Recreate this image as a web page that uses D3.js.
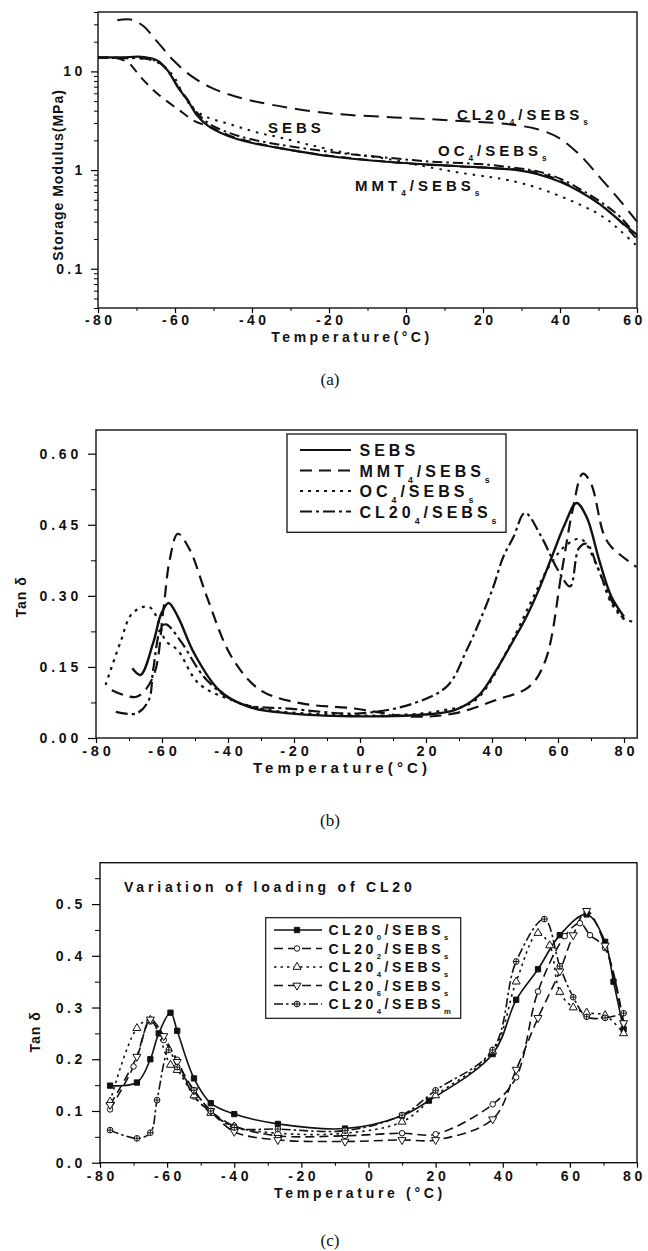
<!DOCTYPE html>
<html>
<head>
<meta charset="utf-8">
<script src="https://cdn.jsdelivr.net/npm/d3@7"></script>
<style>
body { margin: 0; background: #fff; }
svg { display: block; }
</style>
</head>
<body>
<script>
// ---- panel (a): storage modulus (MPa) vs temperature ----
const aTicksX = [-80, -60, -40, -20, 0, 20, 40, 60];
const aTicksY = [0.1, 1, 10];

const aDashLongT = [-75, -71.5, -68.3, -64.8, -60.3, -55.8, -50.6, -44.5, -35, -19.6, -3, 11, 26.7, 34.2, 39.6, 45, 50.4, 55.8, 60];
const aDashLongV = [33, 33.5, 29, 20.4, 12.8, 9.0, 6.85, 5.6, 4.6, 3.75, 3.42, 3.2, 2.91, 2.59, 2.13, 1.44, 0.84, 0.48, 0.30];

const aSolidT = [-80, -74, -68, -64.4, -61.8, -59.2, -56.6, -54.5, -51.4, -46.2, -40.2, -33.2, -19.6, -3.5, 12.7, 28.9, 34.2, 40, 45, 50.4, 55.8, 60];
const aSolidV = [13.8, 13.9, 14.0, 12.8, 10.1, 6.85, 5.0, 3.68, 2.8, 2.21, 1.89, 1.68, 1.38, 1.2, 1.1, 1.0, 0.91, 0.76, 0.61, 0.45, 0.30, 0.22];

const aDashDotT = [-80, -74, -68, -64.4, -61.8, -59.2, -56.6, -54.5, -51.4, -46.2, -40.2, -33.2, -18, -6.8, 6.2, 19.2, 29.6, 34.2, 40, 45, 50.4, 55.8, 60];
const aDashDotV = [13.8, 13.6, 13.5, 12.5, 10, 7, 5.1, 3.9, 3.0, 2.4, 2.05, 1.82, 1.5, 1.36, 1.22, 1.15, 1.04, 0.97, 0.82, 0.65, 0.48, 0.33, 0.21];

const aDotT = [-80, -74, -70, -66, -62.5, -60, -57.5, -55, -51.4, -47.1, -42.8, -38.4, -33, -25, -15, -5, 7.1, 14, 21.8, 26.6, 34.2, 45, 51.5, 55.8, 60];
const aDotV = [13.8, 13.8, 13.6, 13.0, 11, 8.5, 5.5, 4.1, 3.4, 3.02, 2.69, 2.39, 2.15, 1.8, 1.48, 1.3, 1.05, 0.94, 0.85, 0.79, 0.66, 0.45, 0.33, 0.24, 0.17];

const aDashT = [-80, -76, -72.2, -68.8, -64.4, -59.2, -54.9, -51, -46, -40, -30, -20, 0, 20, 30, 36, 45, 50, 55, 60];
const aDashV = [13.8, 13.8, 12.3, 8.65, 5.87, 4.13, 3.14, 2.75, 2.25, 1.92, 1.6, 1.4, 1.17, 1.06, 1.0, 0.9, 0.62, 0.46, 0.32, 0.2];

const aLabels = ["CL20_4/SEBS_s", "SEBS", "OC_4/SEBS_s", "MMT_4/SEBS_s"];

// ---- panel (b): tan delta ----
const bTicksX = [-80, -60, -40, -20, 0, 20, 40, 60, 80];
const bTicksY = [0, 0.15, 0.30, 0.45, 0.60];
const bNames = ["SEBS", "MMT_4/SEBS_s", "OC_4/SEBS_s", "CL20_4/SEBS_s"];

const bSebsT = [-69, -66.5, -62.7, -60.2, -58, -55.2, -50.2, -42.7, -33.9, -21.4, -2.6, 16.2, 28.7, 36, 41, 46, 50, 54, 58, 62, 65.6, 68.7, 72.5, 76.2, 80];
const bSebsV = [0.147, 0.133, 0.2, 0.263, 0.285, 0.256, 0.178, 0.101, 0.066, 0.052, 0.046, 0.048, 0.059, 0.09, 0.14, 0.2, 0.25, 0.31, 0.38, 0.45, 0.496, 0.466, 0.375, 0.298, 0.256];

const bMmtT = [-75.2, -67.7, -62.7, -59.6, -57.7, -55.2, -51.5, -46.4, -38.9, -30.2, -17.7, -2.6, 16.2, 28.7, 41.2, 51.2, 56.2, 61.2, 64.4, 67.5, 70, 73.8, 76.2, 83.8];
const bMmtV = [0.101, 0.087, 0.129, 0.27, 0.375, 0.431, 0.396, 0.298, 0.171, 0.101, 0.073, 0.063, 0.045, 0.052, 0.08, 0.108, 0.164, 0.354, 0.48, 0.558, 0.537, 0.431, 0.403, 0.361];

const bOcT = [-77.1, -72.7, -69, -64, -60.8, -59, -55.2, -48.9, -38.9, -27.6, -10, 10, 25, 35, 45, 52, 58, 63, 67, 72, 76.2, 80, 83.2];
const bOcV = [0.112, 0.2, 0.263, 0.277, 0.242, 0.206, 0.185, 0.115, 0.08, 0.059, 0.05, 0.048, 0.058, 0.08, 0.19, 0.29, 0.37, 0.41, 0.42, 0.36, 0.284, 0.252, 0.245];

const bCl20T = [-74, -67.7, -64, -62.7, -60.2, -58.8, -57.7, -53.9, -46.4, -36.4, -21.4, 0, 16.2, 26.5, 32.3, 36.4, 40.4, 43.4, 46.5, 50, 55, 60, 63.7, 66.3, 68.7, 72, 76.2, 80];
const bCl20V = [0.055, 0.052, 0.08, 0.143, 0.235, 0.24, 0.235, 0.2, 0.122, 0.073, 0.062, 0.052, 0.073, 0.11, 0.185, 0.249, 0.319, 0.382, 0.424, 0.475, 0.424, 0.354, 0.32, 0.40, 0.41, 0.36, 0.29, 0.25];

// ---- panel (c): variation of loading of CL20 ----
const cTicksX = [-80, -60, -40, -20, 0, 20, 40, 60, 80];
const cTicksY = [0, 0.1, 0.2, 0.3, 0.4, 0.5];
const cNames = ["CL20_0/SEBS_s", "CL20_2/SEBS_s", "CL20_4/SEBS_s", "CL20_6/SEBS_s", "CL20_4/SEBS_m"];

const c0T = [-77, -69, -65, -62.5, -59, -57, -52, -47, -40, -27, -7, 10, 18, 37, 44, 50.5, 57, 65, 70.5, 73, 76];
const c0V = [0.149, 0.155, 0.200, 0.250, 0.290, 0.255, 0.163, 0.115, 0.094, 0.075, 0.066, 0.091, 0.120, 0.210, 0.315, 0.374, 0.440, 0.480, 0.427, 0.350, 0.258];

const c2T = [-77, -70, -65, -61, -57, -52, -47, -40, -27, -7, 10, 20, 37, 44, 50.5, 58.5, 63, 66, 70.5, 76];
const c2V = [0.103, 0.186, 0.273, 0.237, 0.199, 0.128, 0.099, 0.071, 0.052, 0.052, 0.057, 0.055, 0.113, 0.165, 0.331, 0.438, 0.463, 0.44, 0.415, 0.27];

const c4T = [-77, -69, -65, -59, -57, -52, -47, -40, -27, -7, 10, 20, 37, 44, 50.5, 54, 57, 61, 65, 70.5, 76];
const c4V = [0.118, 0.260, 0.276, 0.189, 0.179, 0.130, 0.096, 0.070, 0.057, 0.057, 0.079, 0.13, 0.215, 0.35, 0.444, 0.42, 0.33, 0.30, 0.29, 0.285, 0.250];

const c6T = [-77, -69, -65, -61, -57, -52, -47, -40, -27, -7, 10, 20, 37, 44, 50.5, 57, 61, 65, 70.5, 76];
const c6V = [0.112, 0.205, 0.277, 0.245, 0.195, 0.14, 0.1, 0.06, 0.044, 0.041, 0.044, 0.044, 0.084, 0.18, 0.28, 0.37, 0.44, 0.487, 0.42, 0.27];

const c4mT = [-77, -69, -65, -63, -59.5, -57, -52, -47, -40, -27, -7, 10, 20, 37, 44, 52.4, 57, 61, 65, 70.5, 76];
const c4mV = [0.063, 0.047, 0.058, 0.121, 0.218, 0.185, 0.14, 0.1, 0.068, 0.065, 0.062, 0.092, 0.14, 0.218, 0.389, 0.471, 0.38, 0.32, 0.282, 0.28, 0.289];

const sans = '"Liberation Sans", Arial, sans-serif';
const svg = d3.select("body").append("svg").attr("width", 648).attr("height", 1251);

function zip(t, v) { return t.map((d, i) => ({t: d, v: v[i]})); }

function boldText(sel, size, spacing) {
    return sel.attr("font-family", sans).attr("font-weight", "bold")
        .attr("font-size", size).attr("letter-spacing", spacing).attr("fill", "#111");
}

// "CL20_4/SEBS_s" -> text with subscripts
function subText(g, x, y, label, size, spacing) {
    const t = boldText(g.append("text").attr("x", x).attr("y", y), size, spacing);
    const parts = label.split(/_(.)/);
    let shift = 0;
    parts.forEach((p, i) => {
        if (!p) return;
        const sub = i % 2 === 1;
        const target = sub ? Math.round(size * 0.35) : 0;
        t.append("tspan").attr("dy", target - shift)
            .attr("font-size", sub ? size * 0.55 : size).text(p);
        shift = target;
    });
    return t;
}

function frame(g, x, y) {
    const [x0, x1] = x.range(), [y0, y1] = y.range();
    g.append("rect").attr("x", x0).attr("y", y1).attr("width", x1 - x0).attr("height", y0 - y1)
        .attr("fill", "none").attr("stroke", "#111").attr("stroke-width", 1.4);
}

function bottomAxis(g, x, yPos, major, minor, size, spacing, pad) {
    g.append("g").attr("transform", `translate(0,${yPos})`)
        .call(d3.axisBottom(x).tickValues(minor).tickSize(3).tickFormat(""))
        .call(s => s.select(".domain").remove());
    const ax = g.append("g").attr("transform", `translate(0,${yPos})`)
        .call(d3.axisBottom(x).tickValues(major).tickSize(5).tickPadding(pad).tickFormat(d => String(d)));
    ax.select(".domain").remove();
    ax.selectAll("line").attr("stroke-width", 1.2);
    const n = major.length;
    // last label sits at the page edge, pull it in a little
    boldText(ax.selectAll("text"), size, spacing)
        .attr("dx", (d, i) => (i === n - 1 && x(d) > 630) ? -3 : spacing / 2);
}

function leftAxis(g, y, xPos, major, minor, fmt, tick, pad, size, spacing) {
    g.append("g").attr("transform", `translate(${xPos},0)`)
        .call(d3.axisLeft(y).tickValues(minor).tickSize(tick - 3).tickFormat(""))
        .call(s => s.select(".domain").remove());
    const ax = g.append("g").attr("transform", `translate(${xPos},0)`)
        .call(d3.axisLeft(y).tickValues(major).tickSize(tick).tickPadding(pad).tickFormat(fmt));
    ax.select(".domain").remove();
    ax.selectAll("line").attr("stroke-width", 1.2);
    boldText(ax.selectAll("text"), size, spacing);
}

function drawLine(g, x, y, data, dash, width) {
    const line = d3.line().x(d => x(d.t)).y(d => y(d.v)).curve(d3.curveCatmullRom.alpha(0.5));
    g.append("path").datum(data).attr("d", line).attr("fill", "none")
        .attr("stroke", "#111").attr("stroke-width", width)
        .attr("stroke-dasharray", dash).attr("stroke-linecap", "butt");
}

function caption(txt, yPos) {
    svg.append("text").attr("x", 330).attr("y", yPos).attr("text-anchor", "middle")
        .attr("font-family", '"Liberation Serif", "Times New Roman", serif')
        .attr("font-size", 17).attr("fill", "#111").text(txt);
}

function yTitle(txt, x, y, size, spacing) {
    boldText(svg.append("text"), size, spacing)
        .attr("transform", `translate(${x},${y}) rotate(-90)`)
        .attr("text-anchor", "middle").text(txt);
}

// ================= (a) =================
const gA = svg.append("g");
const xA = d3.scaleLinear().domain([-80, 60]).range([98, 637]);
const yA = d3.scaleLog().domain([0.04, 40]).range([308, 12]);
const aMinorY = [];
[0.01, 0.1, 1, 10].forEach(dec => { for (let k = 2; k <= 9; k++) { const v = dec * k; if (v >= 0.04 && v <= 40) aMinorY.push(v); } });

drawLine(gA, xA, yA, zip(aDashLongT, aDashLongV), "15,8", 2);
drawLine(gA, xA, yA, zip(aDashT, aDashV), "10,7", 2);
drawLine(gA, xA, yA, zip(aDotT, aDotV), "2.5,6", 2);
drawLine(gA, xA, yA, zip(aDashDotT, aDashDotV), "10,4,2.5,4", 2);
drawLine(gA, xA, yA, zip(aSolidT, aSolidV), null, 2.2);

frame(gA, xA, yA);
bottomAxis(gA, xA, 308, aTicksX, d3.range(-70, 60, 20), 14, 3.4, 2);
leftAxis(gA, yA, 98, aTicksY, aMinorY, d => String(d), 7, 5.5, 14, 3.3);

subText(gA, 457, 120, aLabels[0], 15, 4);
subText(gA, 268, 132.5, aLabels[1], 15, 4);
subText(gA, 438, 156, aLabels[2], 15, 4);
subText(gA, 355, 190.5, aLabels[3], 15, 4);

boldText(svg.append("text"), 14, 3.5).attr("x", 352).attr("y", 342)
    .attr("text-anchor", "middle").text("Temperature(°C)");
yTitle("Storage Modulus(MPa)", 63, 175, 14, 1.0);
caption("(a)", 385);

// ================= (b) =================
const gB = svg.append("g");
const xB = d3.scaleLinear().domain([-80, 84]).range([96, 637.2]);
const yB = d3.scaleLinear().domain([0, 0.65]).range([738, 430]);

drawLine(gB, xB, yB, zip(bMmtT, bMmtV), "12,7", 2.2);
drawLine(gB, xB, yB, zip(bOcT, bOcV), "3,5", 2.2);
drawLine(gB, xB, yB, zip(bCl20T, bCl20V), "12,4,3,4", 2.2);
drawLine(gB, xB, yB, zip(bSebsT, bSebsV), null, 2.4);

frame(gB, xB, yB);
bottomAxis(gB, xB, 738, bTicksX, d3.range(-70, 84, 20), 14.5, 3.8, 3);
leftAxis(gB, yB, 96, bTicksY, [0.075, 0.225, 0.375, 0.525], d3.format(".2f"), 8, 6, 14, 3.8);

// legend (b)
const legB = gB.append("g");
legB.append("rect").attr("x", 287).attr("y", 434).attr("width", 219).attr("height", 98.3)
    .attr("fill", "#fff").attr("stroke", "#111").attr("stroke-width", 1.3);
const bDash = [null, "12,7", "3,5", "12,4,3,4"];
const bRowY = [450, 470.5, 491, 511.5];
bNames.forEach((n, i) => {
    legB.append("line").attr("x1", 300).attr("x2", 351).attr("y1", bRowY[i]).attr("y2", bRowY[i])
        .attr("stroke", "#111").attr("stroke-width", 2.2).attr("stroke-dasharray", bDash[i]);
    subText(legB, 359.5, bRowY[i] + 6, n, 16, 4);
});

boldText(svg.append("text"), 15, 4.1).attr("x", 342).attr("y", 773)
    .attr("text-anchor", "middle").text("Temperature(°C)");
yTitle("Tan δ", 26, 597, 14, 1);
caption("(b)", 826);

// ================= (c) =================
const gC = svg.append("g");
const xC = d3.scaleLinear().domain([-80, 80]).range([100, 637]);
const yC = d3.scaleLinear().domain([0, 0.58]).range([1162.7, 862.7]);

const crossCircle = {
    draw(ctx, size) {
        const r = Math.sqrt(size / Math.PI);
        ctx.moveTo(r, 0); ctx.arc(0, 0, r, 0, 2 * Math.PI);
        ctx.moveTo(-r, 0); ctx.lineTo(r, 0);
        ctx.moveTo(0, -r); ctx.lineTo(0, r);
    }
};
const cSeries = [
    {data: zip(c0T, c0V), dash: null, sym: d3.symbolSquare, size: 28, fill: "#111", rot: 0},
    {data: zip(c2T, c2V), dash: "9,5", sym: d3.symbolCircle, size: 24, fill: "#fff", rot: 0},
    {data: zip(c4T, c4V), dash: "2.5,4", sym: d3.symbolTriangle, size: 28, fill: "#fff", rot: 0},
    {data: zip(c6T, c6V), dash: "9,5", sym: d3.symbolTriangle, size: 28, fill: "#fff", rot: 180},
    {data: zip(c4mT, c4mV), dash: "9,3,2.5,3", sym: crossCircle, size: 26, fill: "#fff", rot: 0}
];

cSeries.forEach(s => drawLine(gC, xC, yC, s.data, s.dash, 1.6));
cSeries.forEach(s => {
    gC.append("g").selectAll("path").data(s.data).join("path")
        .attr("d", d3.symbol(s.sym, s.size))
        .attr("transform", d => `translate(${xC(d.t)},${yC(d.v)}) rotate(${s.rot})`)
        .attr("fill", s.fill).attr("stroke", "#111").attr("stroke-width", 1);
});

frame(gC, xC, yC);
bottomAxis(gC, xC, 1162.7, cTicksX, d3.range(-70, 80, 10).filter(d => d % 20 !== 0), 14, 3.6, 3);
leftAxis(gC, yC, 100, cTicksY, [0.05, 0.15, 0.25, 0.35, 0.45, 0.55], d3.format(".1f"), 8, 6, 14, 3.6);

boldText(gC.append("text"), 14, 3.8).attr("x", 124).attr("y", 892).text("Variation of loading of CL20");

// legend (c)
const legC = gC.append("g");
legC.append("rect").attr("x", 265.7).attr("y", 917.7).attr("width", 195).attr("height", 100.6)
    .attr("fill", "#fff").attr("stroke", "#111").attr("stroke-width", 1.2);
const cRowY = [930, 948.5, 967, 985.5, 1004];
cSeries.forEach((s, i) => {
    legC.append("line").attr("x1", 274).attr("x2", 322).attr("y1", cRowY[i]).attr("y2", cRowY[i])
        .attr("stroke", "#111").attr("stroke-width", 1.6).attr("stroke-dasharray", s.dash);
    legC.append("path").attr("d", d3.symbol(s.sym, s.size))
        .attr("transform", `translate(297,${cRowY[i]}) rotate(${s.rot})`)
        .attr("fill", s.fill).attr("stroke", "#111").attr("stroke-width", 1);
    subText(legC, 328.5, cRowY[i] + 5, cNames[i], 14, 3.5);
});

boldText(svg.append("text"), 14, 3.7).attr("x", 360).attr("y", 1198)
    .attr("text-anchor", "middle").text("Temperature (°C)");
yTitle("Tan δ", 40, 1032, 14, 1);
caption("(c)", 1246);
</script>
</body>
</html>
